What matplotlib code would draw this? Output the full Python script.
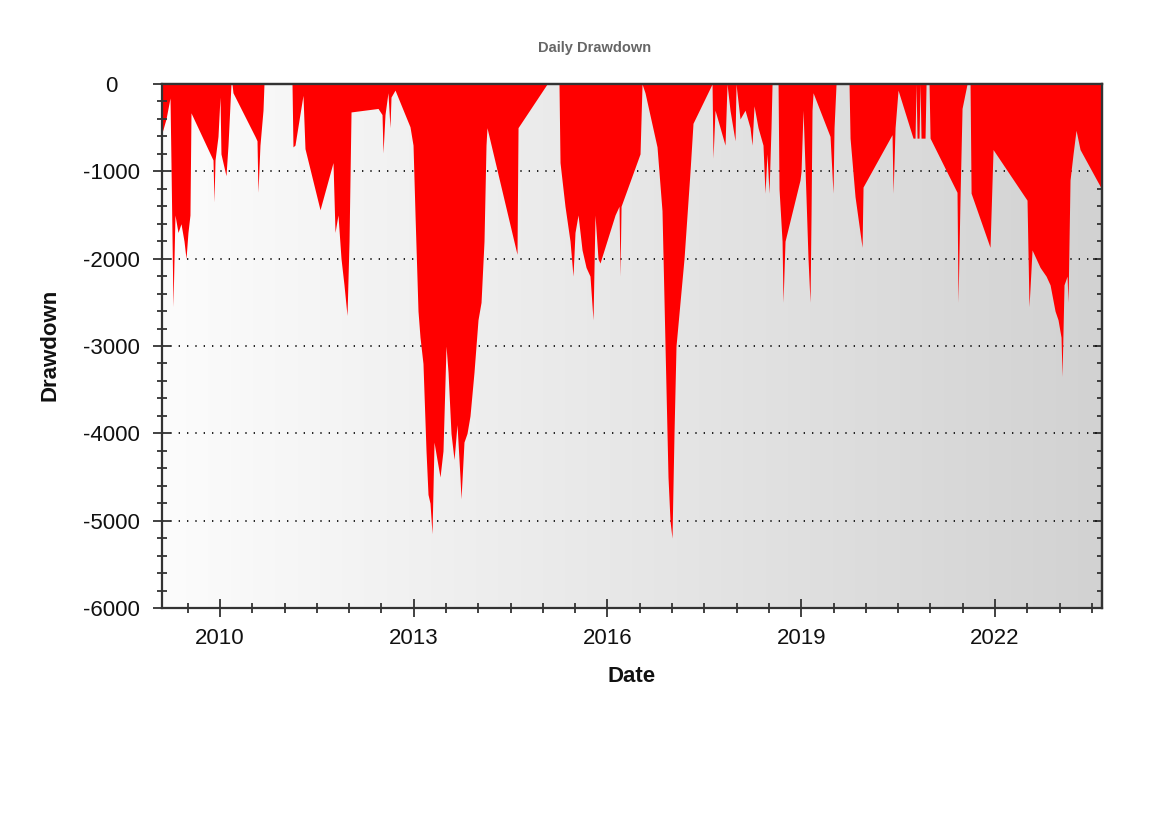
import numpy as np
import matplotlib
matplotlib.use("Agg")
import matplotlib.pyplot as plt
from matplotlib.ticker import MultipleLocator, FixedLocator

plt.rcParams['font.family'] = ['Liberation Sans', 'DejaVu Sans']

# drawdown series (decimal year, drawdown)
years = [2009.102, 2009.164, 2009.226, 2009.241, 2009.272, 2009.303, 2009.350, 2009.396,
         2009.443, 2009.474, 2009.504, 2009.535, 2009.551, 2009.892, 2009.907, 2009.923,
         2009.969, 2010.000, 2010.015, 2010.046, 2010.093, 2010.124, 2010.170, 2010.186,
         2010.201, 2010.542, 2010.573, 2010.588, 2010.619, 2010.666, 2010.681, 2011.115,
         2011.130, 2011.161, 2011.285, 2011.316, 2011.549, 2011.750, 2011.781, 2011.827,
         2011.874, 2011.920, 2011.967, 2011.998, 2012.029, 2012.447, 2012.509, 2012.524,
         2012.555, 2012.601, 2012.632, 2012.648, 2012.710, 2012.942, 2012.989, 2013.020,
         2013.066, 2013.097, 2013.143, 2013.190, 2013.221, 2013.252, 2013.283, 2013.314,
         2013.360, 2013.407, 2013.453, 2013.500, 2013.531, 2013.577, 2013.624, 2013.670,
         2013.716, 2013.732, 2013.778, 2013.825, 2013.871, 2013.933, 2013.995, 2014.042,
         2014.088, 2014.119, 2014.134, 2014.599, 2014.615, 2015.064, 2015.249, 2015.265,
         2015.342, 2015.420, 2015.466, 2015.497, 2015.544, 2015.606, 2015.668, 2015.729,
         2015.776, 2015.807, 2015.853, 2015.884, 2016.117, 2016.179, 2016.194, 2016.210,
         2016.504, 2016.535, 2016.581, 2016.767, 2016.844, 2016.891, 2016.937, 2016.968,
         2016.999, 2017.030, 2017.061, 2017.185, 2017.278, 2017.324, 2017.619, 2017.634,
         2017.665, 2017.743, 2017.820, 2017.851, 2017.897, 2017.975, 2017.990, 2018.052,
         2018.130, 2018.207, 2018.238, 2018.269, 2018.331, 2018.408, 2018.439, 2018.470,
         2018.501, 2018.532, 2018.548, 2018.641, 2018.656, 2018.703, 2018.718, 2018.749,
         2018.981, 2018.997, 2019.028, 2019.074, 2019.105, 2019.136, 2019.152, 2019.167,
         2019.183, 2019.446, 2019.492, 2019.508, 2019.539, 2019.740, 2019.756, 2019.833,
         2019.942, 2019.957, 2020.406, 2020.422, 2020.453, 2020.499, 2020.731, 2020.762,
         2020.778, 2020.793, 2020.824, 2020.840, 2020.855, 2020.917, 2020.933, 2020.979,
         2020.995, 2021.412, 2021.428, 2021.459, 2021.490, 2021.567, 2021.614, 2021.630,
         2021.923, 2021.970, 2022.496, 2022.527, 2022.574, 2022.636, 2022.698, 2022.791,
         2022.853, 2022.930, 2022.976, 2023.023, 2023.038, 2023.069, 2023.116, 2023.131,
         2023.162, 2023.209, 2023.255, 2023.317, 2023.657]
drawdown = [-560, -400, -160, -900, -2550, -1500, -1700, -1600,
            -1800, -2000, -1700, -1500, -330, -870, -1350, -870,
            -600, -150, -800, -900, -1050, -700, 0, 0,
            -100, -600, -650, -1240, -700, -300, 0, 0,
            -720, -700, -130, -740, -1440, -900, -1700, -1500,
            -2000, -2300, -2650, -1800, -320, -280, -350, -790,
            -350, -100, -500, -150, -70, -490, -700, -1500,
            -2600, -2900, -3200, -4200, -4700, -4800, -5150, -4100,
            -4300, -4500, -4200, -3000, -3300, -4000, -4300, -3900,
            -4500, -4750, -4100, -4000, -3800, -3300, -2700, -2500,
            -1800, -700, -500, -1950, -500, 0, 0, -900,
            -1400, -1800, -2200, -1700, -1500, -1900, -2100, -2200,
            -2700, -1500, -2000, -2050, -1500, -1400, -2200, -1400,
            -800, 0, -100, -720, -1450, -3000, -4500, -5000,
            -5200, -4000, -3000, -2000, -1000, -450, 0, -850,
            -300, -500, -700, 0, -300, -650, 0, -400,
            -300, -500, -700, -250, -500, -700, -1250, -800,
            -1250, -500, 0, 0, -1200, -1800, -2500, -1800,
            -1100, -1000, -300, -1300, -2000, -2500, -1500, -300,
            -100, -600, -1250, -500, 0, 0, -620, -1290,
            -1870, -1180, -580, -1250, -500, -70, -620, -620,
            0, -620, -620, 0, -620, -620, 0, 0,
            -620, -1240, -2500, -1300, -280, 0, 0, -1250,
            -1870, -750, -1330, -2550, -1900, -2000, -2100, -2200,
            -2300, -2600, -2700, -2900, -3350, -2300, -2200, -2500,
            -1100, -800, -530, -750, -1210]

year_ticks = [2010, 2013, 2016, 2019, 2022]
dd_ticks = [0, -1000, -2000, -3000, -4000, -5000, -6000]

x = np.array(years)
y = np.array(drawdown)
x0, x1 = 2009.102, 2023.657

fig = plt.figure(figsize=(11.69, 8.26), dpi=100)
ax = fig.add_axes([162/1169, 1-608/826, 940/1169, 524/826])

# grey gradient background, light on the left, darker on the right
shade = np.linspace(252, 210, 256) / 255
grad = np.dstack([shade, shade, shade]).reshape(1, -1, 3)
ax.imshow(grad, extent=[x0, x1, -6000, 0], aspect='auto',
          zorder=0, interpolation='bilinear')

for t in dd_ticks[1:-1]:
    ax.axhline(t, color='black', lw=1.2, ls=(0, (0.8, 4.2)), zorder=1)

ax.fill_between(x, y, 0, color='#ff0000', lw=0, zorder=1.5)

ax.set_xlim(x0, x1)
ax.set_ylim(-6000, 0)

ax.xaxis.set_major_locator(FixedLocator(year_ticks))
ax.xaxis.set_minor_locator(MultipleLocator(0.5))
ax.set_xticklabels([str(v) for v in year_ticks])
ax.yaxis.set_major_locator(FixedLocator(dd_ticks))
ax.yaxis.set_minor_locator(MultipleLocator(200))
ax.set_yticklabels([str(v) for v in dd_ticks], ha='center')

ax.tick_params(which='major', direction='inout', length=13, width=1.3,
               color='#333333', labelsize=16, labelcolor='#111111')
ax.tick_params(which='minor', direction='inout', length=7, width=1.3, color='#333333')
ax.tick_params(axis='y', which='major', pad=30)
ax.tick_params(axis='x', which='major', pad=8)

for s in ax.spines.values():
    s.set_color('#333333')
    s.set_linewidth(1.6)

sec_y = ax.secondary_yaxis('right')
sec_y.set_yticks(dd_ticks)
sec_y.yaxis.set_minor_locator(MultipleLocator(200))
sec_y.tick_params(which='major', direction='in', length=6.5, width=1.3,
                  color='#333333', labelright=False)
sec_y.tick_params(which='minor', direction='in', length=3.6, width=1.3, color='#333333')
sec_y.spines['right'].set_color('#333333')
sec_y.spines['right'].set_linewidth(1.6)

sec_x = ax.secondary_xaxis('top')
sec_x.set_xticks(year_ticks)
sec_x.xaxis.set_minor_locator(FixedLocator([]))
sec_x.tick_params(which='major', direction='in', length=6.5, width=1.3,
                  color='#333333', labeltop=False)
sec_x.spines['top'].set_color('#333333')
sec_x.spines['top'].set_linewidth(1.6)

fig.text(595/1169, 1-48/826, 'Daily Drawdown', ha='center', va='center',
         fontsize=10.5, fontweight='bold', color='#666666')
fig.text(50/1169, 1-345/826, 'Drawdown', ha='center', va='center', rotation=90,
         fontsize=16, fontweight='bold', color='#111111')
fig.text(632/1169, 1-676/826, 'Date', ha='center', va='center',
         fontsize=16, fontweight='bold', color='#111111')

fig.savefig('out.png', dpi=100)
